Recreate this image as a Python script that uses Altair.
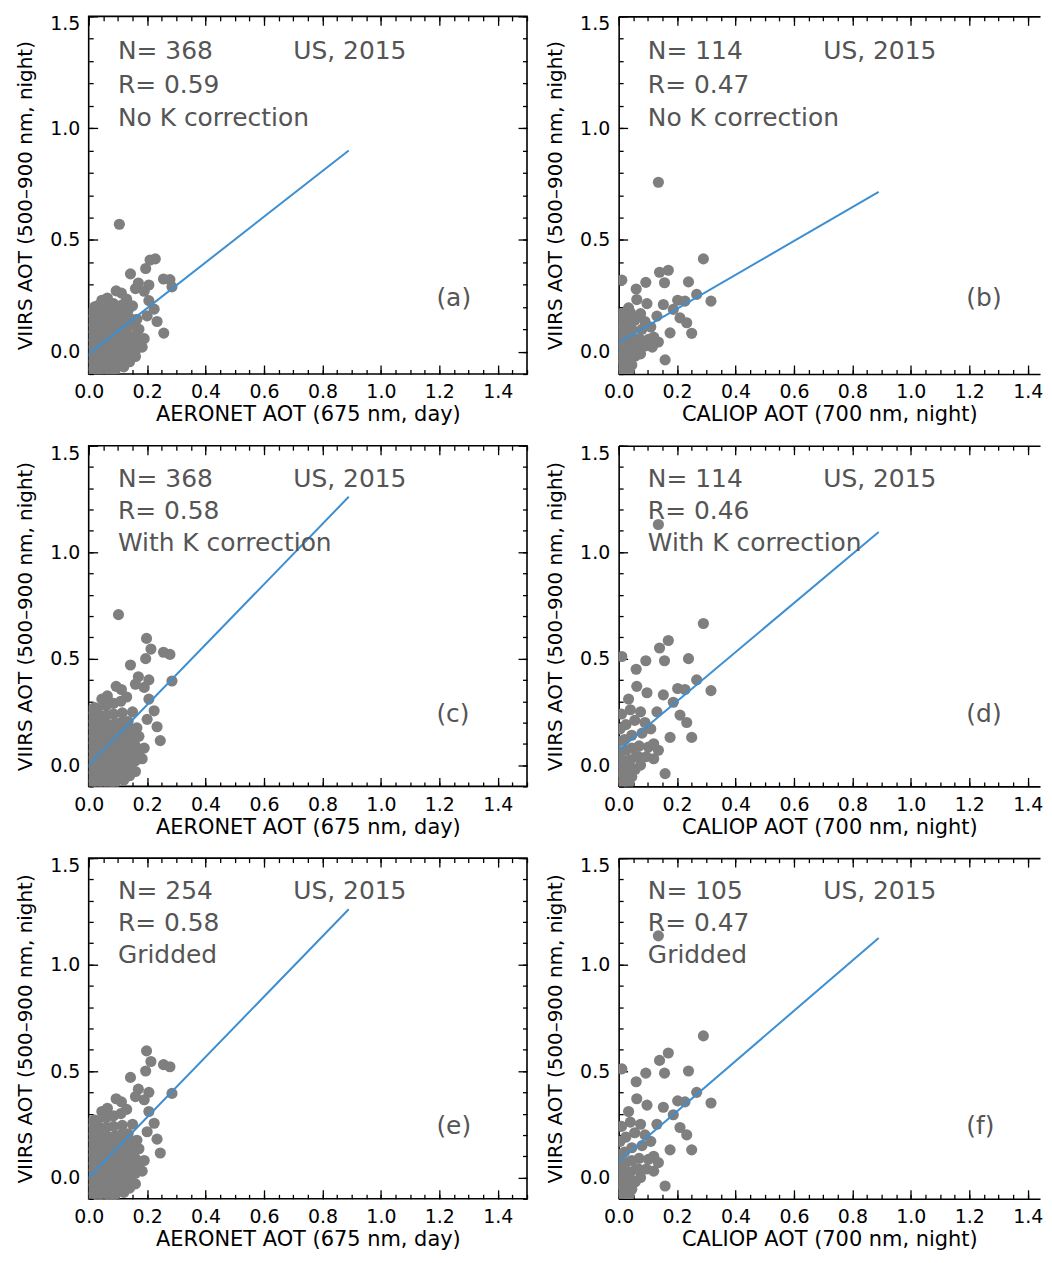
import altair as alt
import pandas as pd

FONT = "DejaVu Sans"

# ---------------- data ----------------
x_major = [0.0, 0.2, 0.4, 0.6, 0.8, 1.0, 1.2, 1.4]
x_minor = [0.0, 0.05, 0.1, 0.15, 0.2, 0.25, 0.3, 0.35, 0.4, 0.45, 0.5, 0.55,
           0.6, 0.65, 0.7, 0.75, 0.8, 0.85, 0.9, 0.95, 1.0, 1.05, 1.1, 1.15,
           1.2, 1.25, 1.3, 1.35, 1.4, 1.45, 1.5]
y_major = [0.0, 0.5, 1.0, 1.5]
y_minor = [-0.1, 0.0, 0.1, 0.2, 0.3, 0.4, 0.5, 0.6, 0.7, 0.8, 0.9, 1.0, 1.1,
           1.2, 1.3, 1.4, 1.5]

y_title = "VIIRS AOT (500–900 nm, night)"
x_titles = ["AERONET AOT (675 nm, day)", "CALIOP AOT (700 nm, night)",
            "AERONET AOT (675 nm, day)", "CALIOP AOT (700 nm, night)",
            "AERONET AOT (675 nm, day)", "CALIOP AOT (700 nm, night)"]
n_labels = ["N= 368", "N= 114", "N= 368", "N= 114", "N= 254", "N= 105"]
r_labels = ["R= 0.59", "R= 0.47", "R= 0.58", "R= 0.46", "R= 0.58", "R= 0.47"]
method_labels = ["No K correction", "No K correction", "With K correction",
                 "With K correction", "Gridded", "Gridded"]
region_label = "US, 2015"
panel_tags = ["(a)", "(b)", "(c)", "(d)", "(e)", "(f)"]

fit_x = [0.0, 0.89]
fit_y = [[-0.01, 0.90], [0.04, 0.715], [0.0, 1.26],
         [0.07, 1.095], [0.0, 1.26], [0.075, 1.125]]

a_pts = [
    (0.105, 0.57), (0.21, 0.41), (0.228, 0.415), (0.195, 0.372), (0.143, 0.348),
    (0.256, 0.325), (0.278, 0.322), (0.285, 0.29), (0.17, 0.307), (0.206, 0.298),
    (0.094, 0.272), (0.112, 0.262), (0.16, 0.282), (0.19, 0.27), (0.064, 0.24),
    (0.045, 0.23), (0.206, 0.228), (0.224, 0.19), (0.2, 0.16), (0.234, 0.135),
    (0.257, 0.083), (0.19, 0.058), (0.183, 0.02), (0.172, 0.1), (0.16, -0.022),
    (0.12, -0.068), (0.085, -0.09), (0.14, -0.045), (0.02, 0.2), (0.13, 0.235),
    (0.01, -0.09), (0.03, -0.09), (0.05, -0.09), (0.07, -0.092), (0.09, -0.085),
    (0.0, -0.06), (0.02, -0.06), (0.04, -0.06), (0.06, -0.06), (0.08, -0.06), (0.1, -0.06), (0.115, -0.055),
    (0.01, -0.03), (0.03, -0.03), (0.05, -0.03), (0.07, -0.03), (0.09, -0.03), (0.11, -0.03), (0.13, -0.03), (0.145, -0.025),
    (0.0, 0.0), (0.02, 0.0), (0.04, 0.0), (0.06, 0.0), (0.08, 0.0), (0.1, 0.0), (0.12, 0.0), (0.14, 0.0), (0.16, 0.005),
    (0.01, 0.035), (0.03, 0.035), (0.05, 0.035), (0.07, 0.035), (0.09, 0.035), (0.11, 0.035), (0.13, 0.035), (0.15, 0.035), (0.17, 0.04),
    (0.0, 0.07), (0.02, 0.07), (0.04, 0.07), (0.06, 0.07), (0.08, 0.07), (0.1, 0.07), (0.12, 0.07), (0.14, 0.07), (0.16, 0.07),
    (0.01, 0.105), (0.03, 0.105), (0.05, 0.105), (0.07, 0.105), (0.09, 0.105), (0.11, 0.105), (0.13, 0.11), (0.155, 0.115),
    (0.0, 0.14), (0.02, 0.14), (0.04, 0.14), (0.06, 0.14), (0.08, 0.14), (0.1, 0.14), (0.12, 0.145), (0.14, 0.15), (0.165, 0.145),
    (0.01, 0.175), (0.03, 0.175), (0.05, 0.175), (0.07, 0.175), (0.09, 0.18), (0.11, 0.18), (0.135, 0.185),
    (0.03, 0.205), (0.06, 0.21), (0.085, 0.215), (0.115, 0.21), (0.15, 0.205),
]

b_pts = [
    (0.136, 0.758), (0.29, 0.415), (0.14, 0.355), (0.17, 0.364), (0.011, 0.32),
    (0.093, 0.31), (0.157, 0.308), (0.239, 0.312), (0.06, 0.28), (0.267, 0.256),
    (0.316, 0.226), (0.097, 0.215), (0.062, 0.233), (0.202, 0.23), (0.227, 0.226),
    (0.153, 0.211), (0.034, 0.196), (0.187, 0.189), (0.131, 0.159), (0.21, 0.151),
    (0.233, 0.129), (0.176, 0.084), (0.25, 0.082), (0.159, -0.037), (0.136, 0.043),
    (0.102, 0.055), (0.068, 0.023), (0.057, -0.02), (0.028, -0.064),
    (0.01, -0.09), (0.035, -0.085), (0.0, -0.06), (0.02, -0.055), (0.045, -0.06),
    (0.005, -0.025), (0.025, -0.02), (0.045, -0.02), (0.075, -0.01),
    (0.0, 0.01), (0.02, 0.015), (0.04, 0.02), (0.06, 0.03), (0.09, 0.025), (0.115, 0.02),
    (0.005, 0.05), (0.025, 0.055), (0.045, 0.06), (0.07, 0.06), (0.12, 0.065),
    (0.0, 0.09), (0.02, 0.09), (0.045, 0.1), (0.08, 0.1), (0.11, 0.11),
    (0.005, 0.13), (0.025, 0.135), (0.055, 0.14), (0.09, 0.135),
    (0.01, 0.17), (0.04, 0.175), (0.075, 0.17),
]

c_pts = [
    (0.102, 0.707), (0.198, 0.595), (0.213, 0.545), (0.256, 0.53), (0.278, 0.52),
    (0.285, 0.395), (0.195, 0.50), (0.143, 0.47), (0.17, 0.415), (0.206, 0.40),
    (0.094, 0.37), (0.112, 0.355), (0.16, 0.38), (0.19, 0.365), (0.064, 0.325),
    (0.045, 0.31), (0.206, 0.31), (0.224, 0.255), (0.2, 0.215), (0.234, 0.18),
    (0.245, 0.115), (0.19, 0.08), (0.183, 0.03), (0.172, 0.135), (0.16, -0.03),
    (0.12, -0.07), (0.085, -0.09), (0.14, -0.05), (0.02, 0.27), (0.13, 0.32),
    (0.01, -0.09), (0.03, -0.09), (0.05, -0.09), (0.07, -0.092), (0.09, -0.085),
    (0.0, -0.055), (0.02, -0.055), (0.04, -0.055), (0.06, -0.055), (0.08, -0.055), (0.1, -0.055), (0.115, -0.05),
    (0.01, -0.02), (0.03, -0.02), (0.05, -0.02), (0.07, -0.02), (0.09, -0.02), (0.11, -0.02), (0.13, -0.02), (0.145, -0.015),
    (0.0, 0.015), (0.02, 0.015), (0.04, 0.015), (0.06, 0.015), (0.08, 0.015), (0.1, 0.015), (0.12, 0.015), (0.14, 0.015), (0.16, 0.02),
    (0.01, 0.05), (0.03, 0.05), (0.05, 0.05), (0.07, 0.05), (0.09, 0.05), (0.11, 0.05), (0.13, 0.05), (0.15, 0.05), (0.17, 0.055),
    (0.0, 0.085), (0.02, 0.085), (0.04, 0.085), (0.06, 0.085), (0.08, 0.085), (0.1, 0.085), (0.12, 0.085), (0.14, 0.09), (0.16, 0.09),
    (0.01, 0.12), (0.03, 0.12), (0.05, 0.12), (0.07, 0.12), (0.09, 0.12), (0.11, 0.12), (0.13, 0.125), (0.155, 0.13),
    (0.0, 0.155), (0.02, 0.155), (0.04, 0.155), (0.06, 0.155), (0.08, 0.155), (0.1, 0.155), (0.12, 0.16), (0.14, 0.17), (0.165, 0.175),
    (0.01, 0.19), (0.03, 0.19), (0.05, 0.19), (0.07, 0.19), (0.09, 0.195), (0.11, 0.2), (0.135, 0.205),
    (0.0, 0.225), (0.02, 0.225), (0.04, 0.23), (0.06, 0.235), (0.085, 0.24), (0.115, 0.245), (0.15, 0.25),
    (0.01, 0.26), (0.03, 0.265), (0.06, 0.28), (0.085, 0.29), (0.11, 0.3),
]

d_pts = [
    (0.136, 1.13), (0.29, 0.665), (0.14, 0.55), (0.17, 0.585), (0.011, 0.51),
    (0.093, 0.49), (0.157, 0.49), (0.239, 0.50), (0.06, 0.45), (0.267, 0.40),
    (0.316, 0.35), (0.097, 0.34), (0.062, 0.37), (0.202, 0.36), (0.227, 0.355),
    (0.153, 0.33), (0.034, 0.31), (0.187, 0.295), (0.131, 0.25), (0.21, 0.235),
    (0.233, 0.20), (0.176, 0.13), (0.25, 0.13), (0.159, -0.04), (0.136, 0.07),
    (0.102, 0.085), (0.068, 0.04), (0.057, -0.02), (0.028, -0.065),
    (0.01, -0.09), (0.035, -0.085), (0.0, -0.06), (0.02, -0.055), (0.045, -0.055),
    (0.005, -0.025), (0.025, -0.02), (0.045, -0.015), (0.075, 0.0),
    (0.0, 0.015), (0.02, 0.02), (0.04, 0.025), (0.06, 0.04), (0.095, 0.04), (0.12, 0.03),
    (0.005, 0.06), (0.025, 0.07), (0.045, 0.08), (0.07, 0.09), (0.12, 0.1),
    (0.0, 0.11), (0.02, 0.12), (0.045, 0.14), (0.08, 0.15), (0.11, 0.17),
    (0.005, 0.17), (0.025, 0.19), (0.055, 0.21), (0.09, 0.2),
    (0.01, 0.24), (0.04, 0.26), (0.075, 0.25),
]

e_pts = [
    (0.198, 0.595), (0.213, 0.545), (0.256, 0.53), (0.278, 0.52),
    (0.285, 0.395), (0.195, 0.50), (0.143, 0.47), (0.17, 0.415), (0.206, 0.40),
    (0.094, 0.37), (0.112, 0.355), (0.16, 0.38), (0.19, 0.365), (0.064, 0.325),
    (0.045, 0.31), (0.206, 0.31), (0.224, 0.255), (0.2, 0.215), (0.234, 0.18),
    (0.245, 0.115), (0.19, 0.08), (0.183, 0.03), (0.172, 0.135), (0.16, -0.03),
    (0.12, -0.07), (0.085, -0.09), (0.14, -0.05), (0.02, 0.27), (0.13, 0.32),
    (0.01, -0.09), (0.03, -0.09), (0.05, -0.09), (0.07, -0.092), (0.09, -0.085),
    (0.0, -0.055), (0.02, -0.055), (0.04, -0.055), (0.06, -0.055), (0.08, -0.055), (0.1, -0.055), (0.115, -0.05),
    (0.01, -0.02), (0.03, -0.02), (0.05, -0.02), (0.07, -0.02), (0.09, -0.02), (0.11, -0.02), (0.13, -0.02), (0.145, -0.015),
    (0.0, 0.015), (0.02, 0.015), (0.04, 0.015), (0.06, 0.015), (0.08, 0.015), (0.1, 0.015), (0.12, 0.015), (0.14, 0.015), (0.16, 0.02),
    (0.01, 0.05), (0.03, 0.05), (0.05, 0.05), (0.07, 0.05), (0.09, 0.05), (0.11, 0.05), (0.13, 0.05), (0.15, 0.05), (0.17, 0.055),
    (0.0, 0.085), (0.02, 0.085), (0.04, 0.085), (0.06, 0.085), (0.08, 0.085), (0.1, 0.085), (0.12, 0.085), (0.14, 0.09), (0.16, 0.09),
    (0.01, 0.12), (0.03, 0.12), (0.05, 0.12), (0.07, 0.12), (0.09, 0.12), (0.11, 0.12), (0.13, 0.125), (0.155, 0.13),
    (0.0, 0.155), (0.02, 0.155), (0.04, 0.155), (0.06, 0.155), (0.08, 0.155), (0.1, 0.155), (0.12, 0.16), (0.14, 0.17), (0.165, 0.175),
    (0.01, 0.19), (0.03, 0.19), (0.05, 0.19), (0.07, 0.19), (0.09, 0.195), (0.11, 0.2), (0.135, 0.205),
    (0.0, 0.225), (0.02, 0.225), (0.04, 0.23), (0.06, 0.235), (0.085, 0.24), (0.115, 0.245), (0.15, 0.25),
    (0.01, 0.26), (0.03, 0.265), (0.06, 0.28), (0.085, 0.29), (0.11, 0.3),
]

f_pts = [
    (0.136, 1.135), (0.29, 0.665), (0.14, 0.55), (0.17, 0.585), (0.011, 0.51),
    (0.093, 0.49), (0.157, 0.49), (0.239, 0.50), (0.06, 0.45), (0.267, 0.40),
    (0.316, 0.35), (0.097, 0.34), (0.062, 0.37), (0.202, 0.36), (0.227, 0.355),
    (0.153, 0.33), (0.034, 0.31), (0.187, 0.295), (0.131, 0.25), (0.21, 0.235),
    (0.233, 0.20), (0.176, 0.13), (0.25, 0.13), (0.159, -0.04), (0.136, 0.07),
    (0.102, 0.085), (0.068, 0.04), (0.057, -0.02), (0.028, -0.065),
    (0.01, -0.09), (0.035, -0.085), (0.0, -0.06), (0.02, -0.055), (0.045, -0.055),
    (0.005, -0.025), (0.025, -0.02), (0.045, -0.015), (0.075, 0.0),
    (0.0, 0.015), (0.02, 0.02), (0.04, 0.025), (0.06, 0.04), (0.095, 0.04), (0.12, 0.03),
    (0.005, 0.06), (0.025, 0.07), (0.045, 0.08), (0.07, 0.09), (0.12, 0.1),
    (0.0, 0.11), (0.02, 0.12), (0.045, 0.14), (0.08, 0.15), (0.11, 0.17),
    (0.005, 0.17), (0.025, 0.19), (0.055, 0.21), (0.09, 0.2),
    (0.01, 0.24), (0.04, 0.26), (0.075, 0.25),
]

all_pts = [a_pts, b_pts, c_pts, d_pts, e_pts, f_pts]

# annotation anchor positions (data units)
text_x = [0.10, 0.10, 0.10, 0.70, 1.19]
text_y = [1.345, 1.195, 1.045, 1.345, 0.24]

panel_heights = [359, 359, 342, 342, 342, 342]
PX_PER_UNIT = 440 / 1.5
# right-hand panels run off the page edge in the original; they stop at the page edge here
panel_widths = [440, 423, 440, 423, 440, 423]

MAJ = 9
MIN = 4.5
FRAME_W = 1.6


def axis(orient, values, size, labels=False, title=None, is_x=True):
    kw = dict(orient=orient, values=values, tickSize=size, offset=-size,
              domain=False, grid=False, tickColor="black", tickWidth=1.3,
              labels=labels, title=title)
    if labels:
        kw.update(format=".1f", labelFont=FONT, labelFontSize=19,
                  labelColor="black", labelOverlap=False)
        if is_x:
            kw.update(labelFlush=False, labelPadding=9)
        else:
            kw.update(labelFlush=True, labelFlushOffset=1.5, labelPadding=9)
    if title:
        kw.update(titleFont=FONT, titleFontSize=21 if is_x else 20,
                  titleFontWeight="normal", titleColor="black",
                  titlePadding=2 if is_x else 14)
    return alt.Axis(**kw)


def frame_axis(orient):
    return alt.Axis(orient=orient, offset=0, domain=True, domainColor="black",
                    domainWidth=FRAME_W, ticks=False, labels=False, grid=False,
                    title=None)


def make_panel(i):
    w = panel_widths[i]
    right_col = (i % 2 == 1)
    xmax = w / PX_PER_UNIT
    xs = alt.Scale(domain=[0, xmax], nice=False, zero=False)
    ys = alt.Scale(domain=[-0.1, 1.5], nice=False, zero=False)
    xmaj = [v for v in x_major if v <= xmax]
    xmin = [v for v in x_minor if v <= xmax]

    pts = pd.DataFrame(all_pts[i], columns=["x", "y"])
    fit = pd.DataFrame({"x": fit_x, "y": fit_y[i]})
    texts = pd.DataFrame({
        "x": text_x, "y": text_y,
        "t": [n_labels[i], r_labels[i], method_labels[i], region_label, panel_tags[i]],
    })

    points = alt.Chart(pts).mark_circle(
        size=125, color="#7f7f7f", opacity=1, clip=True
    ).encode(
        x=alt.X("x:Q", scale=xs, axis=axis("bottom", xmaj, MAJ, True, x_titles[i], True)),
        y=alt.Y("y:Q", scale=ys, axis=axis("left", y_major, MAJ, True, y_title, False)),
    )
    line = alt.Chart(fit).mark_line(color="#3d8fd1", strokeWidth=2, clip=True).encode(
        x=alt.X("x:Q", scale=xs, axis=axis("bottom", xmin, MIN)),
        y=alt.Y("y:Q", scale=ys, axis=axis("left", y_minor, MIN)),
    )
    labels = alt.Chart(texts).mark_text(
        align="left", baseline="middle", font=FONT, fontSize=25, color="#555555"
    ).encode(
        x=alt.X("x:Q", scale=xs, axis=None),
        y=alt.Y("y:Q", scale=ys, axis=None),
        text="t:N",
    )
    if not right_col:
        top_major = alt.Chart(fit).mark_line(opacity=0, clip=True).encode(
            x=alt.X("x:Q", scale=xs, axis=axis("top", xmaj, MAJ)),
            y=alt.Y("y:Q", scale=ys, axis=axis("right", y_major, MAJ)),
        )
        top_minor = alt.Chart(fit).mark_line(opacity=0, clip=True).encode(
            x=alt.X("x:Q", scale=xs, axis=axis("top", xmin, MIN)),
            y=alt.Y("y:Q", scale=ys, axis=axis("right", y_minor, MIN)),
        )
        layers = [points, line, top_major, top_minor, labels]
        view = alt.ViewBackground(stroke="black", strokeWidth=FRAME_W)
    else:
        top_major = alt.Chart(fit).mark_line(opacity=0, clip=True).encode(
            x=alt.X("x:Q", scale=xs, axis=axis("top", xmaj, MAJ)),
            y=alt.Y("y:Q", scale=ys, axis=frame_axis("left")),
        )
        top_minor = alt.Chart(fit).mark_line(opacity=0, clip=True).encode(
            x=alt.X("x:Q", scale=xs, axis=axis("top", xmin, MIN)),
            y=alt.Y("y:Q", scale=ys, axis=None),
        )
        frame_bottom = alt.Chart(fit).mark_line(opacity=0, clip=True).encode(
            x=alt.X("x:Q", scale=xs, axis=frame_axis("bottom")),
            y=alt.Y("y:Q", scale=ys, axis=None),
        )
        frame_top = alt.Chart(fit).mark_line(opacity=0, clip=True).encode(
            x=alt.X("x:Q", scale=xs, axis=frame_axis("top")),
            y=alt.Y("y:Q", scale=ys, axis=None),
        )
        layers = [points, line, top_major, top_minor, frame_bottom, frame_top, labels]
        view = alt.ViewBackground(stroke="transparent")
    return alt.layer(*layers).resolve_axis(
        x="independent", y="independent"
    ).properties(width=w, height=panel_heights[i], view=view)


chart = alt.concat(
    *[make_panel(i) for i in range(6)],
    columns=2,
    spacing={"row": 72, "column": 92},
    bounds="flush",
    align="each",
).properties(
    padding={"left": 6, "top": 3, "right": 0, "bottom": 0}
).configure(background="white")

chart.save("out.html", embed_options={"renderer": "svg", "actions": False})
